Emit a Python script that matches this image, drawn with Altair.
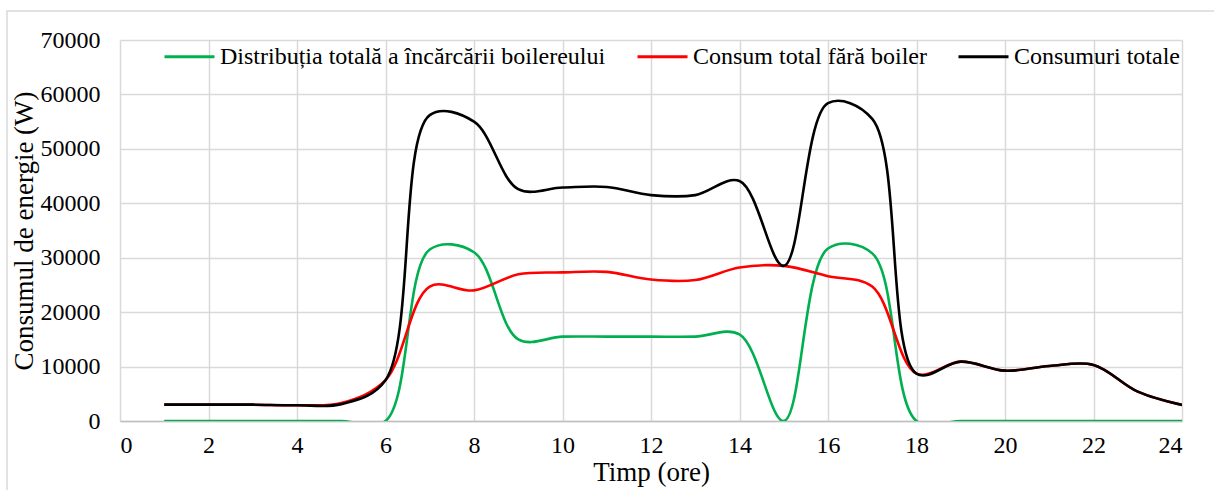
import altair as alt
import pandas as pd

hours = list(range(1, 25))
boiler = [0, 0, 0, 0, 0, 0, 31500, 31000, 15000, 15500, 15500, 15500,
          15500, 15900, 0, 31700, 30800, 0, 0, 0, 0, 0, 0, 0]
fara_boiler = [3000, 3000, 3000, 2900, 3300, 7500, 24700, 24000, 26950, 27300, 27400, 26000,
               25900, 28200, 28500, 26600, 24700, 8700, 10900, 9250, 10100, 10300, 5400, 2950]
totale = [3000, 3000, 3000, 2900, 3100, 7500, 56200, 55000, 42600, 42900, 43000, 41500,
          41500, 44100, 28500, 58400, 55500, 8700, 10900, 9250, 10100, 10300, 5400, 2950]

names = ["Distribuția totală a încărcării boilereului", "Consum total fără boiler", "Consumuri totale"]
colors = ["#00B050", "#FF0000", "#000000"]
x_ticks = list(range(0, 25, 2))
y_ticks = list(range(0, 70001, 10000))

rows = []
for name, vals in zip(names, [boiler, fara_boiler, totale]):
    for h, v in zip(hours, vals):
        rows.append({"ora": h, "valoare": v, "serie": name})
df = pd.DataFrame(rows)

FONT = "Liberation Serif"
W, H = 1062, 381

color = alt.Color(
    "serie:N",
    scale=alt.Scale(domain=names, range=colors),
    legend=alt.Legend(
        orient="none", legendX=43, legendY=-10, direction="horizontal", columns=3,
        symbolType="stroke", symbolSize=2500, symbolStrokeWidth=3,
        labelFont=FONT, labelFontSize=24, labelColor="#000000", labelOffset=4,
        columnPadding=25, title=None, labelLimit=0, padding=0,
    ),
)

x = alt.X("ora:Q", scale=alt.Scale(domain=[0, 24], nice=False),
          axis=alt.Axis(values=x_ticks, format="d", title="Timp (ore)", labelPadding=12,
                        titlePadding=2))
y = alt.Y("valoare:Q", scale=alt.Scale(domain=[0, 70000], nice=False),
          axis=alt.Axis(values=y_ticks, format="d", title="Consumul de energie (W)",
                        labelPadding=20, titlePadding=2, domain=False))

frame = alt.Chart(pd.DataFrame({"k": [0]})).mark_rect(
    fillOpacity=0, stroke="#d9d9d9", strokeWidth=1.5, clip=False
).encode(x=alt.value(-113), x2=alt.value(W + 60), y=alt.value(-29), y2=alt.value(H + 90))

layers = [frame]
for name in names:
    layers.append(
        alt.Chart(df).transform_filter(alt.datum.serie == name)
        .mark_line(interpolate="catmull-rom", strokeWidth=2.6, clip=True)
        .encode(x=x, y=y, color=color)
    )

chart = alt.layer(*layers).properties(
    width=W, height=H,
    background="white",
    autosize=alt.AutoSizeParams(type="none"),
    padding={"left": 120, "top": 40, "right": 32, "bottom": 69},
).configure_axis(
    labelFont=FONT, labelFontSize=24, labelColor="#000000",
    titleFont=FONT, titleFontSize=27, titleFontWeight="normal", titleColor="#000000",
    grid=True, gridColor="#d9d9d9", gridWidth=1.5, ticks=False,
    domainColor="#bfbfbf", domainWidth=1.5,
).configure_view(stroke=None)

chart.save("out.html", embed_options={"renderer": "svg", "actions": False})
